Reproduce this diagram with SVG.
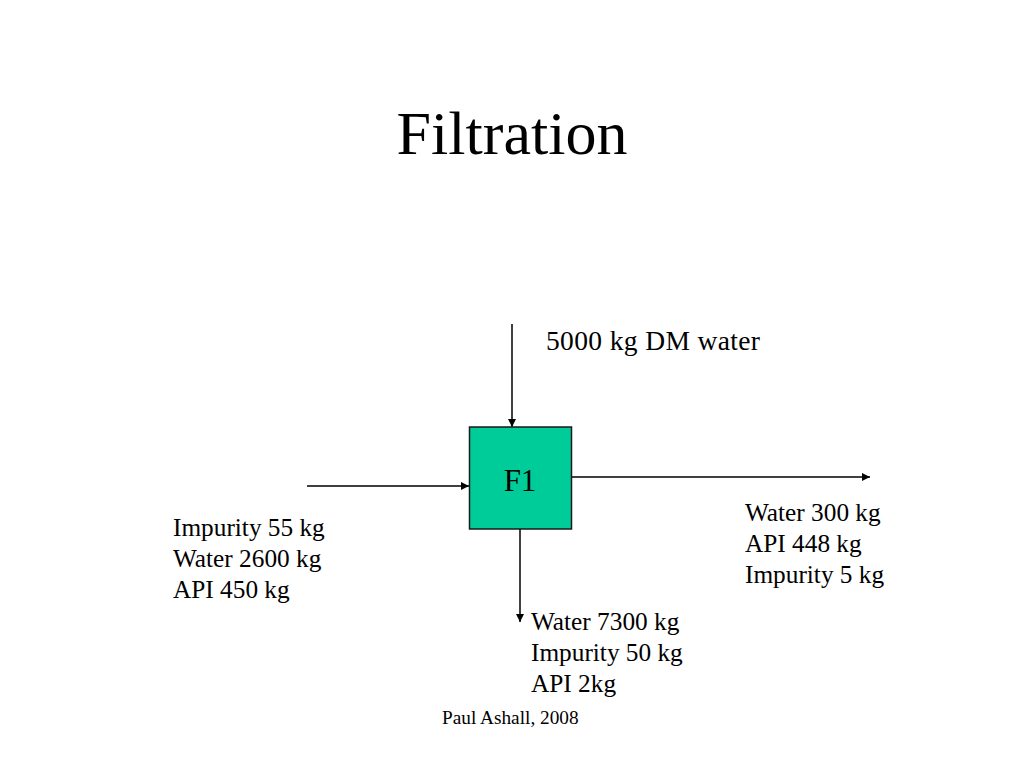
<svg xmlns="http://www.w3.org/2000/svg" width="1024" height="768" viewBox="0 0 1024 768">
<defs>
<style>
.t{font-family:"Liberation Serif","Times New Roman",serif;fill:#000}
.lbl{font-size:25.3px}
.ln{stroke:#000;stroke-width:1.5;fill:none}
</style>
<marker id="ah" viewBox="0 0 10 10" refX="10" refY="5" markerWidth="8" markerHeight="8" markerUnits="userSpaceOnUse" orient="auto">
<path d="M0,0 L10,5 L0,10 Z" fill="#000"/>
</marker>
</defs>
<rect width="1024" height="768" fill="#fff"/>
<text class="t" x="512" y="154" font-size="62" text-anchor="middle">Filtration</text>
<g id="connectors">
<line class="ln" x1="512" y1="324" x2="512" y2="427" marker-end="url(#ah)"/>
<line class="ln" x1="307" y1="486" x2="469" y2="486" marker-end="url(#ah)"/>
<line class="ln" x1="572" y1="477" x2="870" y2="477" marker-end="url(#ah)"/>
<line class="ln" x1="520" y1="529" x2="520" y2="622" marker-end="url(#ah)"/>
</g>
<g id="F1">
<rect x="469.5" y="427" width="102" height="102" fill="#00CC99" stroke="#1a1a1a" stroke-width="1.5"/>
<text class="t" x="520" y="491" font-size="31" text-anchor="middle">F1</text>
</g>
<g id="feed-water">
<text class="t" x="546" y="350" font-size="27.5" textLength="214" lengthAdjust="spacing">5000 kg DM water</text>
</g>
<g id="feed">
<text class="t lbl" x="173" y="536">Impurity 55 kg</text>
<text class="t lbl" x="173" y="567">Water 2600 kg</text>
<text class="t lbl" x="173" y="598">API 450 kg</text>
</g>
<g id="product">
<text class="t lbl" x="745" y="521">Water 300 kg</text>
<text class="t lbl" x="745" y="552">API 448 kg</text>
<text class="t lbl" x="745" y="583">Impurity 5 kg</text>
</g>
<g id="filtrate">
<text class="t lbl" x="531" y="630">Water 7300 kg</text>
<text class="t lbl" x="531" y="661">Impurity 50 kg</text>
<text class="t lbl" x="531" y="692">API 2kg</text>
</g>
<text class="t" x="442" y="724" font-size="19.3">Paul Ashall, 2008</text>
</svg>
